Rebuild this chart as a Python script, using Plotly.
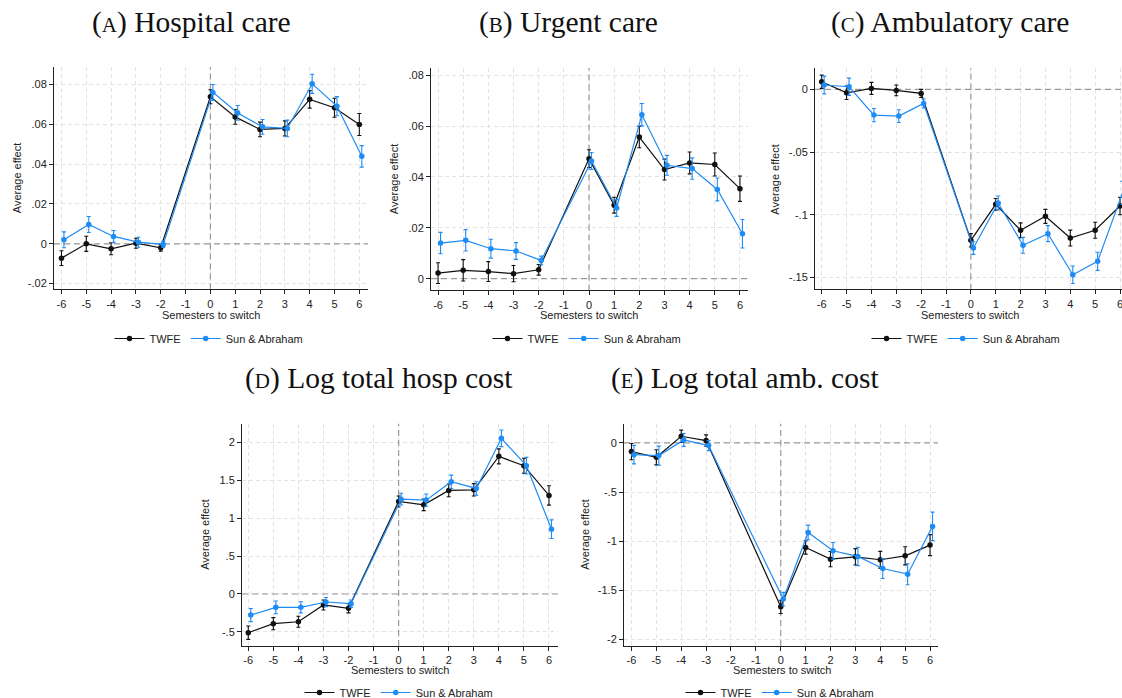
import plotly.graph_objects as go

W, H = 1122, 698      # reference canvas (positions below are in these pixels)
FIG_H = 707           # figure height used for rendering (harness squeezes vertically)

# ---------------- data ----------------
SEM = [-6, -5, -4, -3, -2, 0, 1, 2, 3, 4, 5, 6]
SEM_E = [-6, -5, -4, -3, 0, 1, 2, 3, 4, 5, 6]
X_TICKS = [-6, -5, -4, -3, -2, -1, 0, 1, 2, 3, 4, 5, 6]

A_twfe = [-0.0072, 0.0000, -0.0025, 0.0003, -0.0020, 0.0738, 0.0637, 0.0574, 0.0579, 0.0725, 0.0683, 0.0599]
A_twfe_ci = [0.0037, 0.0038, 0.0030, 0.0025, 0.0017, 0.0035, 0.0037, 0.0037, 0.0038, 0.0044, 0.0048, 0.0055]
A_sa = [0.0020, 0.0097, 0.0037, 0.0008, -0.0003, 0.0760, 0.0657, 0.0587, 0.0579, 0.0803, 0.0691, 0.0439]
A_sa_ci = [0.0040, 0.0040, 0.0030, 0.0025, 0.0015, 0.0040, 0.0037, 0.0037, 0.0042, 0.0048, 0.0048, 0.0054]

B_twfe = [0.0022, 0.0033, 0.0028, 0.0020, 0.0035, 0.0472, 0.0289, 0.0557, 0.0429, 0.0455, 0.0449, 0.0354]
B_twfe_ci = [0.0041, 0.0042, 0.0039, 0.0032, 0.0021, 0.0035, 0.0031, 0.0042, 0.0041, 0.0043, 0.0045, 0.0050]
B_sa = [0.0140, 0.0151, 0.0118, 0.0109, 0.0072, 0.0463, 0.0278, 0.0645, 0.0446, 0.0433, 0.0351, 0.0177]
B_sa_ci = [0.0042, 0.0042, 0.0037, 0.0033, 0.0017, 0.0033, 0.0033, 0.0044, 0.0039, 0.0042, 0.0045, 0.0056]

C_twfe = [0.0061, -0.0027, 0.0008, -0.0008, -0.0032, -0.1204, -0.0917, -0.1124, -0.1013, -0.1186, -0.1124, -0.0930]
C_twfe_ci = [0.0053, 0.0053, 0.0048, 0.0043, 0.0032, 0.0053, 0.0047, 0.0059, 0.0056, 0.0063, 0.0064, 0.0070]
C_sa = [0.0035, 0.0021, -0.0205, -0.0213, -0.0112, -0.1266, -0.0906, -0.1244, -0.1151, -0.1479, -0.1372, -0.0826]
C_sa_ci = [0.0071, 0.0069, 0.0053, 0.0051, 0.0035, 0.0050, 0.0055, 0.0063, 0.0064, 0.0070, 0.0072, 0.0093]

D_twfe = [-0.511, -0.392, -0.366, -0.145, -0.189, 1.220, 1.176, 1.366, 1.374, 1.815, 1.692, 1.300]
D_twfe_ci = [0.088, 0.080, 0.073, 0.066, 0.060, 0.073, 0.077, 0.084, 0.081, 0.099, 0.099, 0.128]
D_sa = [-0.278, -0.176, -0.176, -0.106, -0.128, 1.251, 1.238, 1.480, 1.392, 2.053, 1.692, 0.855]
D_sa_ci = [0.086, 0.084, 0.073, 0.060, 0.048, 0.077, 0.081, 0.088, 0.088, 0.110, 0.110, 0.123]

E_twfe = [-0.088, -0.146, 0.068, 0.024, -1.670, -1.065, -1.184, -1.160, -1.190, -1.150, -1.041]
E_twfe_ci = [0.083, 0.077, 0.063, 0.058, 0.068, 0.068, 0.078, 0.083, 0.085, 0.092, 0.107]
E_sa = [-0.119, -0.129, 0.031, -0.027, -1.590, -0.912, -1.099, -1.156, -1.279, -1.337, -0.850]
E_sa_ci = [0.094, 0.097, 0.066, 0.051, 0.068, 0.075, 0.085, 0.094, 0.102, 0.107, 0.145]

A_yt = [-0.02, 0, 0.02, 0.04, 0.06, 0.08]
A_yl = ["-.02", "0", ".02", ".04", ".06", ".08"]
B_yt = [0, 0.02, 0.04, 0.06, 0.08]
B_yl = ["0", ".02", ".04", ".06", ".08"]
C_yt = [-0.15, -0.1, -0.05, 0]
C_yl = ["-.15", "-.1", "-.05", "0"]
D_yt = [-0.5, 0, 0.5, 1, 1.5, 2]
D_yl = ["-.5", "0", ".5", "1", "1.5", "2"]
E_yt = [-2, -1.5, -1, -0.5, 0]
E_yl = ["-2", "-1.5", "-1", "-.5", "0"]

TITLES = ["(<span style='font-size:21px'>A</span>) Hospital care",
          "(<span style='font-size:21px'>B</span>) Urgent care",
          "(<span style='font-size:21px'>C</span>) Ambulatory care",
          "(<span style='font-size:21px'>D</span>) Log total hosp cost",
          "(<span style='font-size:21px'>E</span>) Log total amb. cost"]
SERIES_NAMES = ["TWFE", "Sun & Abraham"]

# ---------------- styling / layout ----------------
BLACK = "#111111"
BLUE = "#1e8cf5"
OFFSET = 0.1
SANS = "Liberation Sans"
SERIF = "Liberation Serif"

panels = [
    dict(sem=SEM, tw=A_twfe, twci=A_twfe_ci, sa=A_sa, saci=A_sa_ci, yt=A_yt, yl=A_yl,
         box=(54, 368, 67, 289), xr=(-6.3, 6.35), yr=(-0.0229, 0.0887),
         title=(191, 22), ytitle_x=17, xtitle=(211, 315), leg=(209, 338)),
    dict(sem=SEM, tw=B_twfe, twci=B_twfe_ci, sa=B_sa, saci=B_sa_ci, yt=B_yt, yl=B_yl,
         box=(431, 748, 68, 290), xr=(-6.28, 6.32), yr=(-0.0046, 0.0828),
         title=(568, 22), ytitle_x=394, xtitle=(589, 315), leg=(587, 338)),
    dict(sem=SEM, tw=C_twfe, twci=C_twfe_ci, sa=C_sa, saci=C_sa_ci, yt=C_yt, yl=C_yl,
         box=(815, 1122, 68, 289), xr=(-6.27, 6.08), yr=(-0.1596, 0.017),
         title=(950, 22), ytitle_x=775, xtitle=(970, 315), leg=(966, 338)),
    dict(sem=SEM, tw=D_twfe, twci=D_twfe_ci, sa=D_sa, saci=D_sa_ci, yt=D_yt, yl=D_yl,
         box=(242, 558, 423, 645), xr=(-6.25, 6.36), yr=(-0.685, 2.247),
         title=(379, 378), ytitle_x=205, xtitle=(400, 669), leg=(399, 692)),
    dict(sem=SEM_E, tw=E_twfe, twci=E_twfe_ci, sa=E_sa, saci=E_sa_ci, yt=E_yt, yl=E_yl,
         box=(624, 938, 423, 645), xr=(-6.3, 6.32), yr=(-2.068, 0.197),
         title=(745, 378), ytitle_x=585, xtitle=(782, 669), leg=(780, 692)),
]


def px_x(v):
    return v / W


def px_y(v):
    return 1 - v / H


fig = go.Figure()
layout = dict(width=W, height=FIG_H, margin=dict(l=0, r=0, t=0, b=0),
              paper_bgcolor="white", plot_bgcolor="white",
              font=dict(family=SANS, size=11, color="#222"),
              showlegend=True, shapes=[], annotations=[])

for i, p in enumerate(panels):
    k = "" if i == 0 else str(i + 1)
    xa, ya = "x" + k, "y" + k
    leg = "legend" + k
    x0, x1, y0, y1 = p["box"]
    sa_x = [s + OFFSET for s in p["sem"]]

    for name, xs, ys, ci, col in [(SERIES_NAMES[0], p["sem"], p["tw"], p["twci"], BLACK),
                                  (SERIES_NAMES[1], sa_x, p["sa"], p["saci"], BLUE)]:
        fig.add_trace(go.Scatter(
            x=xs, y=ys, mode="lines+markers", name=name,
            line=dict(color=col, width=1.2),
            marker=dict(color=col, size=5.5),
            error_y=dict(type="data", array=ci, symmetric=True, color=col, thickness=1.1, width=2),
            xaxis=xa, yaxis=ya, legend=leg, showlegend=True, cliponaxis=False))

    axcommon = dict(showline=True, linecolor="#222", linewidth=1, ticks="outside", ticklen=4,
                    tickcolor="#222", tickwidth=1, showgrid=True, gridcolor="#e3e3e3",
                    griddash="4px,3px", gridwidth=1, zeroline=False, ticklabeloverflow="allow",
                    tickfont=dict(family=SANS, size=11, color="#222"), automargin=False)
    layout["xaxis" + k] = dict(axcommon, domain=[px_x(x0), px_x(x1)], anchor=ya,
                               range=list(p["xr"]), tickvals=X_TICKS,
                               ticktext=[str(t) for t in X_TICKS])
    layout["yaxis" + k] = dict(axcommon, domain=[px_y(y1), px_y(y0)], anchor=xa,
                               range=list(p["yr"]), tickvals=p["yt"], ticktext=p["yl"])

    # reference lines (at zero on each axis)
    layout["shapes"].append(dict(type="line", xref=xa, yref=ya, x0=p["xr"][0], x1=p["xr"][1], y0=0, y1=0,
                                 line=dict(color="#9a9a9a", width=1.2, dash="6px,4px"), layer="between"))
    layout["shapes"].append(dict(type="line", xref=xa, yref=ya, x0=0, x1=0, y0=p["yr"][0], y1=p["yr"][1],
                                 line=dict(color="#9a9a9a", width=1.2, dash="6px,4px"), layer="between"))

    # titles
    tx, ty = p["title"]
    layout["annotations"].append(dict(text=TITLES[i], x=px_x(tx), y=px_y(ty), xref="paper", yref="paper",
                                      xanchor="center", yanchor="middle", showarrow=False,
                                      font=dict(family=SERIF, size=29.5, color="#111")))
    layout["annotations"].append(dict(text="Average effect", x=px_x(p["ytitle_x"]), y=px_y((y0 + y1) / 2),
                                      xref="paper", yref="paper", textangle=-90, xanchor="center",
                                      yanchor="middle", showarrow=False,
                                      font=dict(family=SANS, size=11, color="#222")))
    ax_, ay_ = p["xtitle"]
    layout["annotations"].append(dict(text="Semesters to switch", x=px_x(ax_), y=px_y(ay_),
                                      xref="paper", yref="paper", xanchor="center", yanchor="middle",
                                      showarrow=False, font=dict(family=SANS, size=11, color="#222")))
    lx, ly = p["leg"]
    layout[leg] = dict(orientation="h", x=px_x(lx), y=px_y(ly), xanchor="center", yanchor="middle",
                       bgcolor="rgba(0,0,0,0)", font=dict(family=SANS, size=11, color="#222"),
                       itemwidth=30, tracegroupgap=0)

fig.update_layout(**layout)
fig.write_html(
    "out.html",
    config={"displayModeBar": False},
    post_script=("document.documentElement.style.overflow='hidden';"
                 "document.body.style.margin='0';"
                 "document.body.style.overflow='hidden';"
                 "document.body.style.height='%dpx';" % FIG_H),
)
